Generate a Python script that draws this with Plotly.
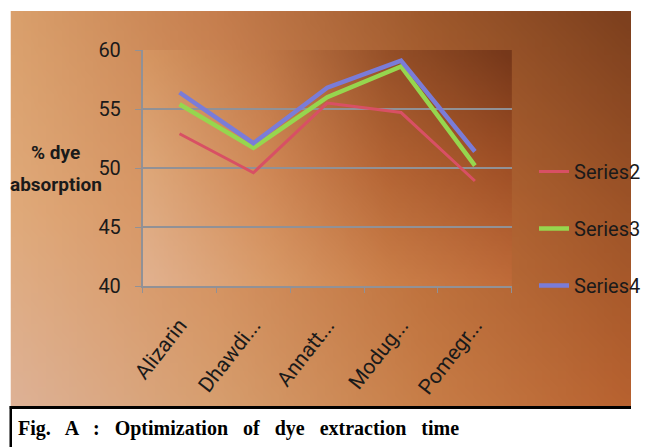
import base64, struct, zlib
import numpy as np
import plotly.graph_objects as go

W, H = 646, 447

categories = ["Alizarin", "Dhawdi...", "Annatt...", "Modug...", "Pomegr..."]
series2 = [52.9, 49.6, 55.5, 54.7, 48.9]
series3 = [55.4, 51.7, 56.0, 58.6, 50.2]
series4 = [56.4, 52.1, 56.8, 59.1, 51.4]
y_ticks = [40, 45, 50, 55, 60]


def gradient_png(ctrl, w=80, h=50):
    ctrl = np.asarray(ctrl, dtype=float)  # (rows, cols, 3)
    r, c, _ = ctrl.shape
    ys = np.linspace(0, r - 1, h)
    xs = np.linspace(0, c - 1, w)
    y0 = np.clip(np.floor(ys).astype(int), 0, r - 2)
    x0 = np.clip(np.floor(xs).astype(int), 0, c - 2)
    fy = (ys - y0)[:, None, None]
    fx = (xs - x0)[None, :, None]
    a = ctrl[y0][:, x0]
    b = ctrl[y0][:, x0 + 1]
    cc = ctrl[y0 + 1][:, x0]
    d = ctrl[y0 + 1][:, x0 + 1]
    img = (a * (1 - fx) * (1 - fy) + b * fx * (1 - fy) + cc * (1 - fx) * fy + d * fx * fy)
    img = np.clip(img, 0, 255).astype(np.uint8)
    raw = b"".join(b"\x00" + img[i].tobytes() for i in range(h))

    def chunk(t, data):
        return struct.pack(">I", len(data)) + t + data + struct.pack(">I", zlib.crc32(t + data) & 0xffffffff)

    png = b"\x89PNG\r\n\x1a\n" + chunk(b"IHDR", struct.pack(">IIBBBBB", w, h, 8, 2, 0, 0, 0)) \
        + chunk(b"IDAT", zlib.compress(raw, 9)) + chunk(b"IEND", b"")
    return "data:image/png;base64," + base64.b64encode(png).decode()


outer_bg = gradient_png([
    [(218, 160, 108), (198, 126, 78), (160, 90, 45), (125, 64, 30)],
    [(224, 170, 122), (212, 142, 92), (186, 108, 56), (158, 84, 40)],
    [(222, 178, 150), (215, 158, 110), (200, 126, 72), (184, 98, 48)],
])
plot_bg = gradient_png([
    [(214, 150, 98), (192, 120, 72), (150, 80, 40), (118, 56, 26)],
    [(222, 168, 122), (208, 136, 86), (180, 100, 52), (160, 80, 38)],
    [(226, 178, 144), (218, 156, 106), (204, 128, 74), (192, 108, 58)],
])

px = lambda v: v / W
py = lambda v: 1 - v / H

fig = go.Figure()
fig.add_trace(go.Scatter(x=categories, y=series2, name="Series2", mode="lines",
                         line=dict(color="rgb(216,80,100)", width=3), legendgroup="s2"))
fig.add_trace(go.Scatter(x=categories, y=series3, name="Series3", mode="lines",
                         line=dict(color="rgb(150,214,78)", width=4.5), legendgroup="s3"))
fig.add_trace(go.Scatter(x=categories, y=series4, name="Series4", mode="lines",
                         line=dict(color="rgb(122,124,216)", width=4.5), legendgroup="s4"))

axis_col = "rgb(145,145,150)"
sans = "Roboto, Liberation Sans, sans-serif"

fig.update_layout(
    width=W, height=H,
    margin=dict(l=0, r=0, t=0, b=0),
    paper_bgcolor="white",
    plot_bgcolor="rgba(0,0,0,0)",
    xaxis=dict(domain=[px(146), px(524)], range=[-0.5, 4.5], type="category",
               showgrid=False, showline=True, linecolor=axis_col, linewidth=1.5,
               ticks="outside", tickson="boundaries", ticklen=5, tickcolor=axis_col,
               tickangle=-52, automargin=False,
               tickfont=dict(family=sans, size=21, color="#1a1a1a"),
               ticklabelstandoff=17),
    yaxis=dict(domain=[py(286), py(50)], range=[40, 60], tickvals=y_ticks,
               showgrid=True, gridcolor=axis_col, gridwidth=1.5,
               showline=True, linecolor=axis_col, linewidth=1.5,
               ticks="outside", ticklen=6, tickcolor=axis_col, automargin=False,
               tickfont=dict(family=sans, size=20, color="#1a1a1a"),
               ticklabelstandoff=10),
    showlegend=True,
    legend=dict(x=px(547), y=py(152), xanchor="left", yanchor="top",
                bgcolor="rgba(0,0,0,0)", tracegroupgap=28,
                font=dict(family=sans, size=20, color="#1a1a1a")),
    images=[
        dict(source=outer_bg, xref="paper", yref="paper", x=px(11), y=py(11),
             sizex=px(646 - 11), sizey=(407 - 11) / H, sizing="stretch", layer="below"),
        dict(source=plot_bg, xref="paper", yref="paper", x=px(146), y=py(50),
             sizex=px(378), sizey=236 / H, sizing="stretch", layer="below"),
    ],
    shapes=[
        dict(type="line", xref="paper", yref="paper", x0=px(10), x1=1, y0=py(407.5), y1=py(407.5),
             line=dict(color="black", width=3)),
        dict(type="line", xref="paper", yref="paper", x0=px(11), x1=px(11), y0=py(406), y1=0,
             line=dict(color="black", width=2.5)),
    ],
    annotations=[
        dict(text="% dye", xref="paper", yref="paper", x=px(57), y=py(152),
             xanchor="center", yanchor="middle", showarrow=False,
             font=dict(family=sans, size=19, color="#1a1a1a", weight="bold")),
        dict(text="absorption", xref="paper", yref="paper", x=px(57), y=py(184),
             xanchor="center", yanchor="middle", showarrow=False,
             font=dict(family=sans, size=19, color="#1a1a1a", weight="bold")),
        dict(text="Fig.   A   :   Optimization   of   dye   extraction   time", xref="paper", yref="paper",
             x=px(16), y=py(428), xanchor="left", yanchor="middle", showarrow=False,
             font=dict(family="Liberation Serif, Times New Roman, serif", size=20, color="black",
                       weight="bold")),
    ],
)

fig.write_html("out.html")
